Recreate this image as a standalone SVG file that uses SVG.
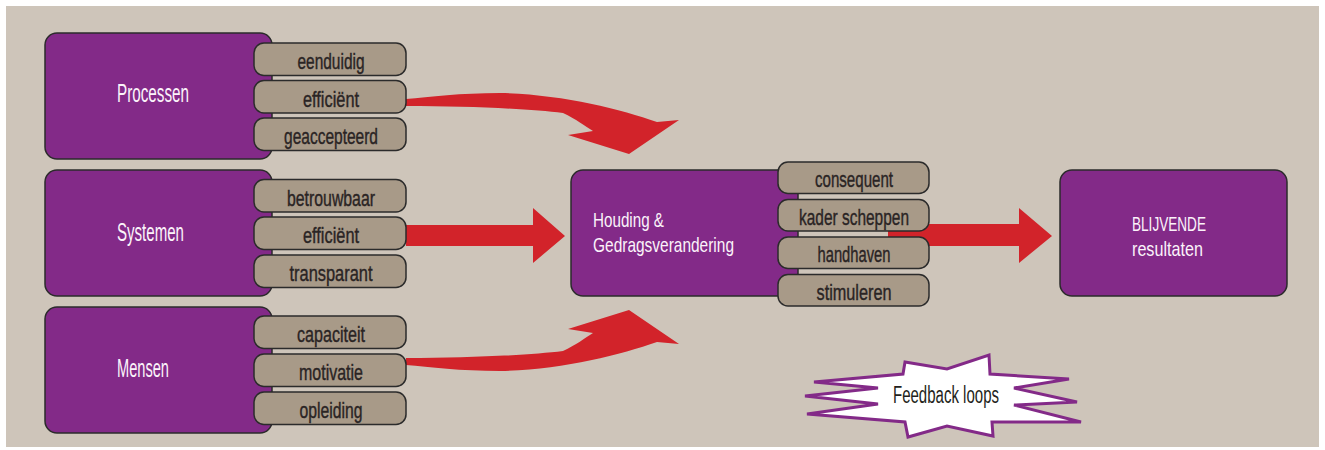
<svg xmlns="http://www.w3.org/2000/svg" width="1325" height="450" viewBox="0 0 1325 450">
<style>
.bg{fill:#CEC5BA}
.box{fill:#832A88;stroke:#2B2B2B;stroke-width:1.5}
.pill{fill:#A89A88;stroke:#2B2B2B;stroke-width:1.5}
.arrow{fill:#D2232A}
.t{font-family:"Liberation Sans Narrow","Liberation Sans",Arial,sans-serif}
.pt{font-size:22px;fill:#2A2424;text-anchor:middle;stroke:#2A2424;stroke-width:0.4}
.wt{font-size:25px;fill:#FBF3FA}
.w2{font-size:21px;fill:#FBF3FA}
.star{fill:#FFFFFF;stroke:#832A88;stroke-width:3;stroke-linejoin:miter}
</style>
<defs>
<path id="curve" d="M406,358 C470,358 530,355 563,351 C576,345 585,338 593,333 L568,329 L629,310 L679,344 L657,342 C620,355 560,370 500,371 C460,371 430,367 406,365 Z"/>
</defs>
<rect class="bg" x="6" y="6" width="1313" height="441"/>
<g id="connectors">
<use href="#curve" class="arrow" transform="matrix(1,0,0,-1,0,464)"/>
<use href="#curve" class="arrow"/>
<polygon class="arrow" points="406,225 533,225 533,208 565,236 533,263 533,246 406,246"/>
<polygon class="arrow" points="888,224 1019,224 1019,208 1052,236 1019,263 1019,246 888,246"/>
</g>
<g id="processen">
<rect class="box" x="45" y="33" width="227" height="126" rx="12"/>
<text class="t wt" x="117" y="102" textLength="72" lengthAdjust="spacingAndGlyphs">Processen</text>
<rect class="pill" x="254" y="43" width="152" height="32.5" rx="10"/>
<text class="t pt" x="331" y="69" textLength="67" lengthAdjust="spacingAndGlyphs">eenduidig</text>
<rect class="pill" x="254" y="80.5" width="152" height="32.5" rx="10"/>
<text class="t pt" x="331" y="106.5" textLength="56" lengthAdjust="spacingAndGlyphs">efficiënt</text>
<rect class="pill" x="254" y="118" width="152" height="32.5" rx="10"/>
<text class="t pt" x="331" y="144" textLength="94" lengthAdjust="spacingAndGlyphs">geaccepteerd</text>
</g>
<g id="systemen">
<rect class="box" x="45" y="170" width="227" height="126" rx="12"/>
<text class="t wt" x="117" y="241" textLength="67" lengthAdjust="spacingAndGlyphs">Systemen</text>
<rect class="pill" x="254" y="179.5" width="152" height="32.5" rx="10"/>
<text class="t pt" x="331" y="205.5" textLength="88" lengthAdjust="spacingAndGlyphs">betrouwbaar</text>
<rect class="pill" x="254" y="217" width="152" height="32.5" rx="10"/>
<text class="t pt" x="331" y="243" textLength="56" lengthAdjust="spacingAndGlyphs">efficiënt</text>
<rect class="pill" x="254" y="255" width="152" height="32.5" rx="10"/>
<text class="t pt" x="331" y="281" textLength="83" lengthAdjust="spacingAndGlyphs">transparant</text>
</g>
<g id="mensen">
<rect class="box" x="45" y="307" width="227" height="126" rx="12"/>
<text class="t wt" x="117" y="377" textLength="52" lengthAdjust="spacingAndGlyphs">Mensen</text>
<rect class="pill" x="254" y="316" width="152" height="32.5" rx="10"/>
<text class="t pt" x="331" y="342" textLength="68" lengthAdjust="spacingAndGlyphs">capaciteit</text>
<rect class="pill" x="254" y="354" width="152" height="32.5" rx="10"/>
<text class="t pt" x="331" y="380" textLength="64" lengthAdjust="spacingAndGlyphs">motivatie</text>
<rect class="pill" x="254" y="392" width="152" height="32.5" rx="10"/>
<text class="t pt" x="331" y="418" textLength="63" lengthAdjust="spacingAndGlyphs">opleiding</text>
</g>
<g id="houding">
<rect class="box" x="571" y="170" width="227" height="126" rx="12"/>
<text class="t w2" x="593" y="227" textLength="71" lengthAdjust="spacingAndGlyphs">Houding &amp;</text>
<text class="t w2" x="593" y="252" textLength="141" lengthAdjust="spacingAndGlyphs">Gedragsverandering</text>
<rect class="pill" x="778" y="162" width="151" height="31.5" rx="10"/>
<text class="t pt" x="854" y="187" textLength="78" lengthAdjust="spacingAndGlyphs">consequent</text>
<rect class="pill" x="778" y="199.5" width="151" height="31.5" rx="10"/>
<text class="t pt" x="854" y="224.5" textLength="110" lengthAdjust="spacingAndGlyphs">kader scheppen</text>
<rect class="pill" x="778" y="237" width="151" height="31.5" rx="10"/>
<text class="t pt" x="854" y="262" textLength="73" lengthAdjust="spacingAndGlyphs">handhaven</text>
<rect class="pill" x="778" y="274.5" width="151" height="31.5" rx="10"/>
<text class="t pt" x="854" y="299.5" textLength="75" lengthAdjust="spacingAndGlyphs">stimuleren</text>
</g>
<g id="resultaten">
<rect class="box" x="1060" y="170" width="227" height="126" rx="12"/>
<text class="t w2" x="1132" y="231" textLength="74" lengthAdjust="spacingAndGlyphs">BLIJVENDE</text>
<text class="t w2" x="1132" y="256" textLength="71" lengthAdjust="spacingAndGlyphs">resultaten</text>
</g>
<g id="feedback">
<polygon class="star" points="905,362 947,369 989,355 990,374 1069,379 1014,388 1077,402 1014,405 1081,422 992,422 993,436 947,426 908,437 905,422 807,414 878,404 805,396 878,388 814,382 903,374"/>
<text class="t" x="893" y="403" font-size="23" fill="#231F20" textLength="106" lengthAdjust="spacingAndGlyphs">Feedback loops</text>
</g>
</svg>
